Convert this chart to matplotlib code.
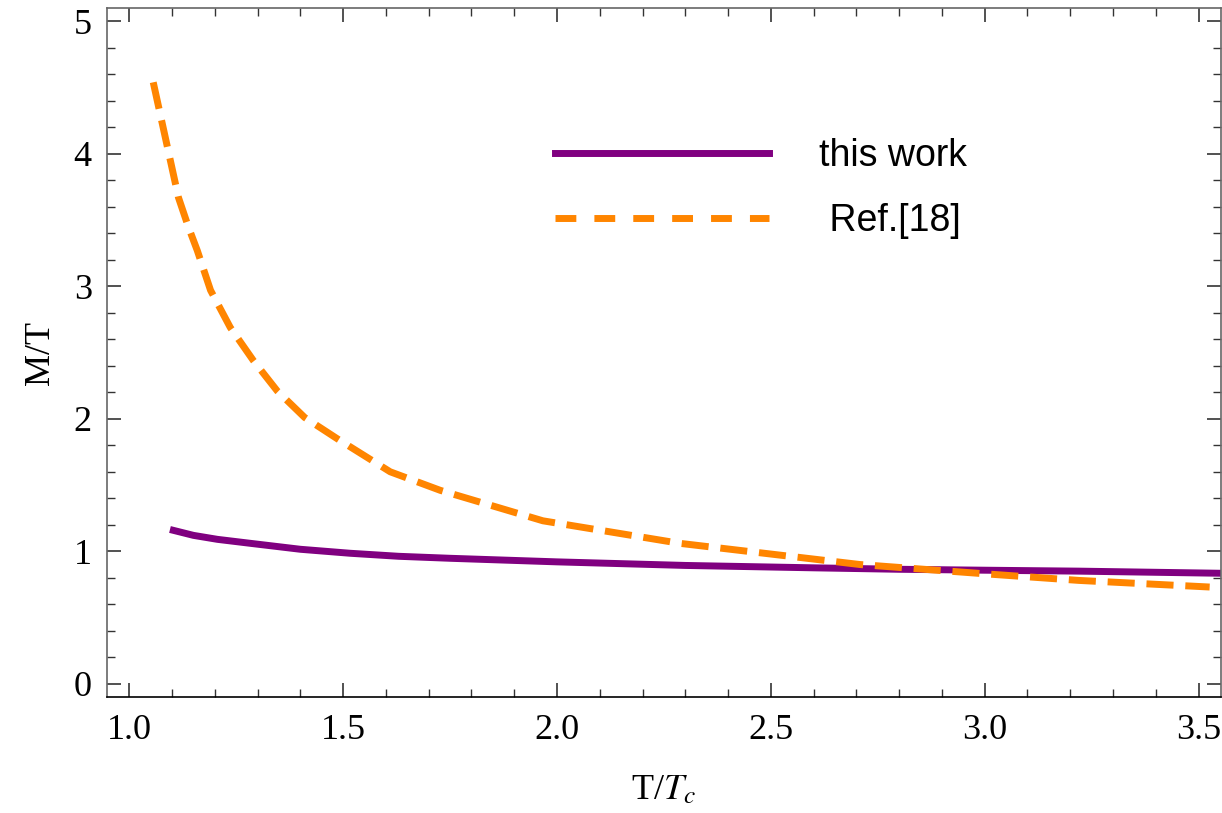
import numpy as np
import matplotlib
matplotlib.use("Agg")
import matplotlib.pyplot as plt
from matplotlib.lines import Line2D
from matplotlib.ticker import MultipleLocator

# ------------------------------------------------------------
# data
# ------------------------------------------------------------
this_work_x = [1.103, 1.15, 1.206, 1.283, 1.4, 1.516, 1.63, 1.75, 2.0, 2.3, 2.6, 2.8, 3.0, 3.22, 3.55]
this_work_y = [1.158, 1.12, 1.09, 1.06, 1.015, 0.985, 0.962, 0.947, 0.92, 0.893, 0.875, 0.864, 0.857, 0.85, 0.834]

ref18_x = [1.056, 1.115, 1.138, 1.159, 1.19, 1.236, 1.29, 1.346, 1.41, 1.486,
           1.61, 1.727, 1.967, 2.287, 2.708, 3.0, 3.22, 3.526]
ref18_y = [4.54, 3.67, 3.45, 3.27, 2.97, 2.69, 2.44, 2.21, 2.01, 1.85,
           1.60, 1.46, 1.23, 1.06, 0.90, 0.83, 0.78, 0.73]

labels = ["this work", " Ref.[18]"]
purple = "#800080"
orange = "#FF8500"

plt.rcParams["font.family"] = "Liberation Serif"
plt.rcParams["mathtext.fontset"] = "stix"

fig = plt.figure(figsize=(12.22, 8.13), dpi=100)
ax = fig.add_axes([0.0876, 0.1427, 0.9114, 0.8473])

ax.plot(this_work_x, this_work_y, color=purple, lw=5, solid_joinstyle="round")
ax.plot(ref18_x, ref18_y, color=orange, lw=5, dashes=(3.9, 1.7))

ax.set_xlim(0.948, 3.552)
ax.set_ylim(-0.1, 5.1)

ax.xaxis.set_major_locator(MultipleLocator(0.5))
ax.xaxis.set_minor_locator(MultipleLocator(0.1))
ax.yaxis.set_major_locator(MultipleLocator(1))
ax.yaxis.set_minor_locator(MultipleLocator(0.2))
ax.xaxis.set_major_formatter(matplotlib.ticker.FormatStrFormatter("%.1f"))

ax.tick_params(which="both", direction="in", top=True, right=True, labelsize=26,
               colors="#333333", labelcolor="black")
ax.tick_params(which="major", length=10, width=1.2)
ax.tick_params(which="minor", length=6, width=1.0)
ax.tick_params(axis="x", pad=12)
ax.tick_params(axis="y", pad=11)

for side in ["left", "right", "top"]:
    ax.spines[side].set_color("#666666")
ax.spines["bottom"].set_color("black")
for s in ax.spines.values():
    s.set_linewidth(1.2)

ax.set_xlabel("T/$T_c$", fontsize=26, labelpad=20)
ax.set_ylabel("M/T", fontsize=26, labelpad=12)

handles = [
    Line2D([], [], color=purple, lw=5),
    Line2D([], [], color=orange, lw=5, dashes=(3.0, 2.6)),
]
ax.legend(handles, labels, loc="upper left", bbox_to_anchor=(0.372, 0.86),
          frameon=False, handlelength=5.7, handletextpad=1.33, labelspacing=0.76,
          prop={"family": "Liberation Sans", "size": 27})

fig.savefig("out.png", dpi=100)
